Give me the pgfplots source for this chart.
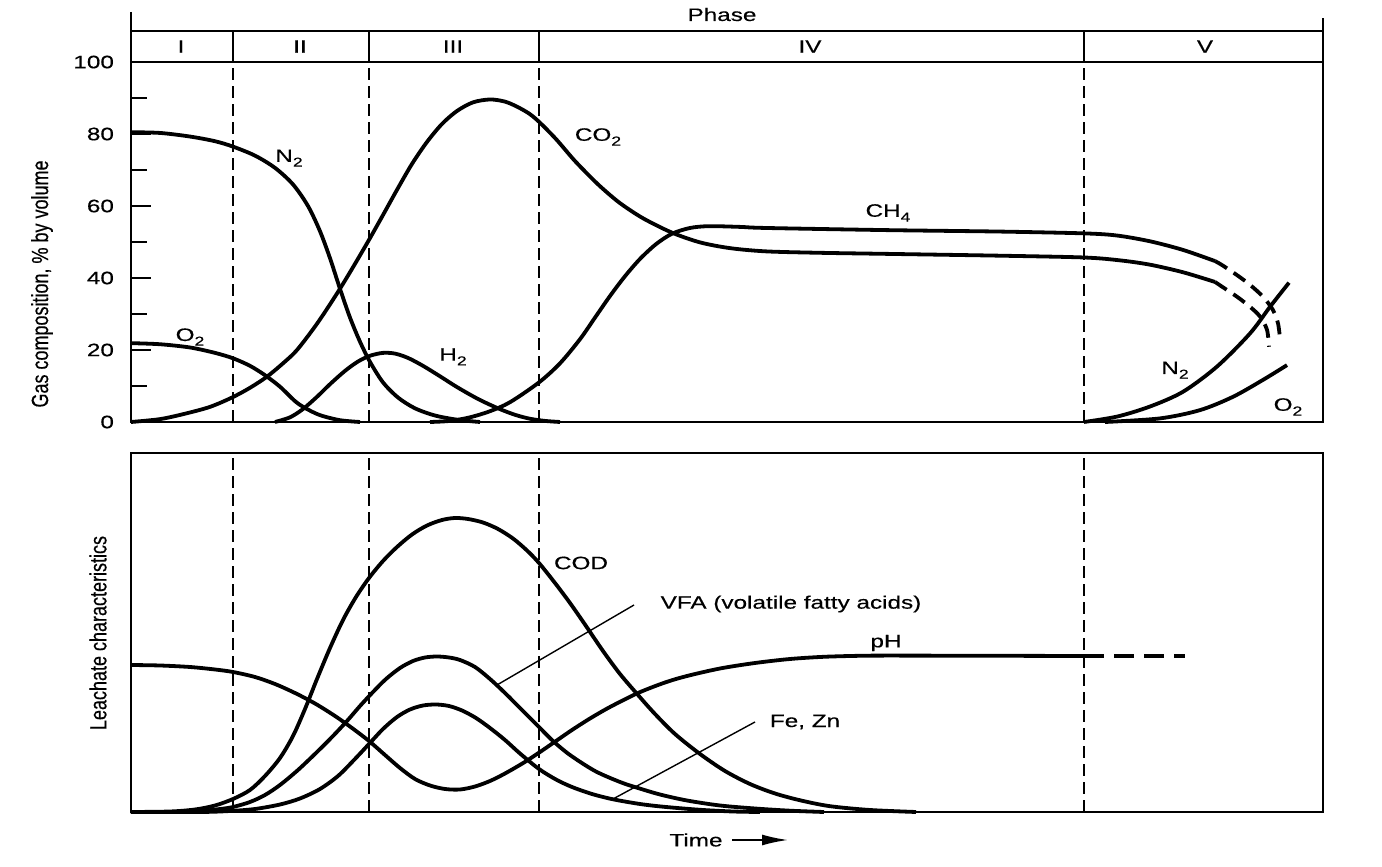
\documentclass[border=0pt]{standalone}
\usepackage{fontspec}
\setmainfont{Liberation Sans}[FakeStretch=1.35, FakeBold=0.4]
\newfontfamily\plainsans{Liberation Sans}[FakeBold=0.4]
\usepackage{pgfplots}
\pgfplotsset{compat=1.18}
\usetikzlibrary{arrows.meta}
\newcommand{\sub}[1]{\raisebox{-0.5ex}{\fontsize{6.5}{7}\selectfont #1}}
\pgfplotsset{
  gcurve/.style={line width=1.9pt, black, smooth, tension=0.5, no markers},
  gdash/.style={line width=1.9pt, black, smooth, tension=0.5, no markers, dash pattern=on 7pt off 4pt},
}
\tikzset{phasedash/.style={line width=1pt, black, dash pattern=on 6pt off 3pt}}
\begin{document}
\begin{tikzpicture}[font=\fontsize{9}{10.8}\selectfont]
\useasboundingbox (0,0) rectangle (691pt,433.5pt);

% ---------------- top panel: gas composition ----------------
\begin{axis}[
  at={(65.5pt,222.5pt)}, anchor=south west,
  scale only axis, width=596pt, height=205pt,
  xmin=131, xmax=1323, ymin=0, ymax=113.9,
  clip=false,
  axis line style={draw=none},
  xtick=\empty,
  ytick={0,20,40,60,80,100},
  minor ytick={10,30,50,70,90},
  ytick pos=left, tick align=inside,
  major tick length=10pt, minor tick length=8pt,
  tick style={black, line width=1pt},
  yticklabel style={font=\fontsize{9}{10}\selectfont, xshift=-5pt},
  /pgf/number format/assume math mode=true,
]
\draw[line width=1.3pt] (rel axis cs:0,1) -- (rel axis cs:0,0) -- (rel axis cs:1,0) -- (rel axis cs:1,0.985);
\draw[line width=1pt] (axis cs:131,100) -- (axis cs:1323,100);
\draw[line width=1pt] (axis cs:131,108.6) -- (axis cs:1323,108.6);
\pgfplotsinvokeforeach{232.5,369,539,1084}{
  \draw[line width=1pt] (axis cs:#1,100) -- (axis cs:#1,108.6);
  \draw[phasedash] (axis cs:#1,0) -- (axis cs:#1,100);
}
\node at (axis cs:181,104.3) {I};
\node at (axis cs:300,104.3) {II};
\node at (axis cs:453,104.3) {III};
\node at (axis cs:810,104.3) {IV};
\node at (axis cs:1205,104.3) {V};

% O2 (phase I-II)
\addplot[gcurve] coordinates {(131,21.9)(160,21.6)(190,20.7)(215,19.2)(233,17.7)(250,15.6)(265,13.0)(280,9.8)(295,5.8)(305,3.9)(320,1.9)(340,0.5)(360,0)};
% N2 (phase I-III)
\addplot[gcurve] coordinates {(131,80.5)(160,80.3)(190,79.3)(215,78.0)(233,76.5)(255,74.0)(275,70.6)(293,66.0)(308,60.0)(320,53.0)(330,45.5)(340,37.0)(350,29.0)(360,22.3)(370,16.7)(383,11.0)(398,6.8)(415,3.8)(435,1.8)(458,0.6)(480,0)};
% H2
\addplot[gcurve] coordinates {(275,0)(290,1.3)(303,3.6)(317,7.0)(330,10.5)(345,14.2)(358,16.8)(370,18.4)(383,19.2)(395,19.0)(408,17.8)(423,15.6)(440,12.7)(457,9.7)(478,6.4)(498,3.8)(515,2.0)(530,0.9)(545,0.3)(560,0)};
% CO2
\addplot[gcurve] coordinates {(131,0)(160,0.8)(185,2.3)(210,4.2)(232,6.8)(250,9.5)(267,12.6)(283,16.3)(297,20)(317,27.3)(337,35.7)(353,43.0)(369,50.6)(383,57.5)(397,64.5)(412,71.7)(427,77.8)(442,82.8)(457,86.4)(473,88.8)(490,89.6)(505,89.0)(517,87.6)(529,85.7)(539,83.4)(556,78.6)(574,72.8)(590,68.2)(602,65.0)(620,60.8)(643,56.6)(672,52.6)(700,49.9)(730,48.3)(766,47.4)(820,47.0)(888,46.7)(1000,46.2)(1084,45.7)(1120,44.9)(1150,43.7)(1183,41.6)(1215,38.9)};
\addplot[gdash] coordinates {(1215,38.9)(1222,37.6)(1237,34.8)(1250,32.0)(1260,29.3)(1267,25.6)(1269,20.9)};
% CH4
\addplot[gcurve] coordinates {(430,0)(450,0.3)(470,1.3)(490,3.0)(510,5.5)(539,11.0)(560,16.3)(580,23.0)(595,29.0)(610,35.0)(625,40.5)(640,45.3)(656,49.4)(672,52.3)(690,53.9)(709,54.4)(740,54.2)(766,53.9)(888,53.3)(1000,52.9)(1084,52.4)(1117,51.8)(1150,50.2)(1183,47.8)(1215,44.7)};
\addplot[gdash] coordinates {(1215,44.7)(1222,43.6)(1237,40.8)(1250,38.1)(1263,34.8)(1273,31.1)(1278,27.4)(1280,23.2)};
% N2 (phase V)
\addplot[gcurve] coordinates {(1084,0)(1117,1.5)(1150,4.3)(1183,8.4)(1217,15.4)(1250,24.6)(1270,32.0)(1289,38.7)};
% O2 (phase V)
\addplot[gcurve] coordinates {(1105,0)(1160,1.0)(1200,3.3)(1233,7.0)(1263,11.7)(1287,15.8)};

\node at (axis cs:190,23.6) {O\sub{2}};
\node at (axis cs:289,73.3) {N\sub{2}};
\node at (axis cs:453,18.1) {H\sub{2}};
\node at (axis cs:598,79.2) {CO\sub{2}};
\node at (axis cs:888,58.1) {CH\sub{4}};
\node at (axis cs:1175,14.4) {N\sub{2}};
\node at (axis cs:1288,4.2) {O\sub{2}};
\end{axis}

% ---------------- bottom panel: leachate ----------------
\begin{axis}[
  at={(65.5pt,27.5pt)}, anchor=south west,
  scale only axis, width=596pt, height=179.5pt,
  xmin=131, xmax=1323, ymin=0, ymax=359,
  clip=false,
  axis line style={line width=1.3pt, black},
  xtick=\empty, ytick=\empty,
]
\pgfplotsinvokeforeach{232.5,369,539,1084}{
  \draw[phasedash] (axis cs:#1,0) -- (axis cs:#1,359);
}
% pH
\addplot[gcurve] coordinates {(131,147)(160,146.5)(190,145)(215,142.5)(233,140)(255,135)(275,128)(295,119)(315,108.5)(335,96)(352,84)(369,71)(385,57)(400,44)(415,33)(430,26.5)(445,23)(460,22.5)(475,25.5)(490,31)(505,38.5)(524,49.5)(540,60)(556,71)(572,82)(590,93.5)(610,105)(638,119)(665,129.5)(687,136)(720,143.5)(755,149)(790,153)(824,155.2)(860,156.2)(893,156.4)(1000,156.2)(1084,156)};
\addplot[line width=1.9pt, black, no markers, dash pattern=on 10pt off 5pt] coordinates {(1084,156)(1185,156)};
% COD
\addplot[gcurve] coordinates {(131,0)(170,0.5)(195,2.5)(215,6.5)(233,13)(250,22)(265,36)(280,54)(293,76)(305,103)(317,133)(330,164)(343,192)(356,215)(369,234)(383,251)(397,265)(412,277.5)(427,286.5)(442,292)(455,294)(468,293)(483,289.5)(498,283)(513,273.5)(527,261.5)(539,249)(555,229)(570,209)(586,186)(603,161)(620,138)(638,117)(655,98)(675,78)(700,58)(725,41)(750,28)(775,18.5)(801,11.5)(830,5.8)(870,2)(916,0)};
% VFA
\addplot[gcurve] coordinates {(131,0)(175,0)(200,1)(220,3)(233,5)(250,10)(265,17)(280,27)(298,42)(317,60)(333,76)(347,91)(360,106)(373,120)(386,133)(400,144)(413,151)(425,154.5)(437,155.5)(449,154.5)(460,152)(475,145)(490,133)(505,119)(520,104)(539,85)(553,71)(570,57)(595,41)(620,30)(638,24)(660,17.5)(687,11.5)(720,6.5)(755,3.5)(790,1.3)(824,0)};
% Fe, Zn
\addplot[gcurve] coordinates {(131,0)(200,0)(230,1)(255,3)(280,7.5)(300,13.5)(320,23)(338,36)(354,52)(369,68)(383,83)(397,95)(410,102.5)(423,106.5)(436,107.5)(449,106)(462,101.5)(476,94)(490,84)(505,72)(520,58.5)(539,43)(556,32.5)(572,25)(592,18)(613,12.7)(640,8)(664,5.2)(700,2.2)(733,0.5)(760,0)};

\draw[line width=0.7pt] (axis cs:634,207) -- (axis cs:497,127);
\draw[line width=0.7pt] (axis cs:755,90) -- (axis cs:613,13);
\node at (axis cs:581,249) {COD};
\node at (axis cs:791,208) {VFA (volatile fatty acids)};
\node at (axis cs:886,169) {pH};
\node at (axis cs:805,90) {Fe, Zn};
\end{axis}

% ---------------- outer labels ----------------
\node[anchor=base] at (361pt,423pt) {Phase};
\node[font=\plainsans\fontsize{9}{10}\selectfont, rotate=90, yscale=1.3, transform shape] at (21pt,291.5pt) {Gas composition, \% by volume};
\node[font=\plainsans\fontsize{9}{10}\selectfont, rotate=90, yscale=1.3, transform shape] at (49pt,117pt) {Leachate characteristics};
\node at (348pt,13.5pt) {Time};
\draw[line width=0.9pt, -{Latex[length=13pt,width=5.5pt]}] (366pt,13.5pt) -- (394pt,13.5pt);
\end{tikzpicture}
\end{document}
